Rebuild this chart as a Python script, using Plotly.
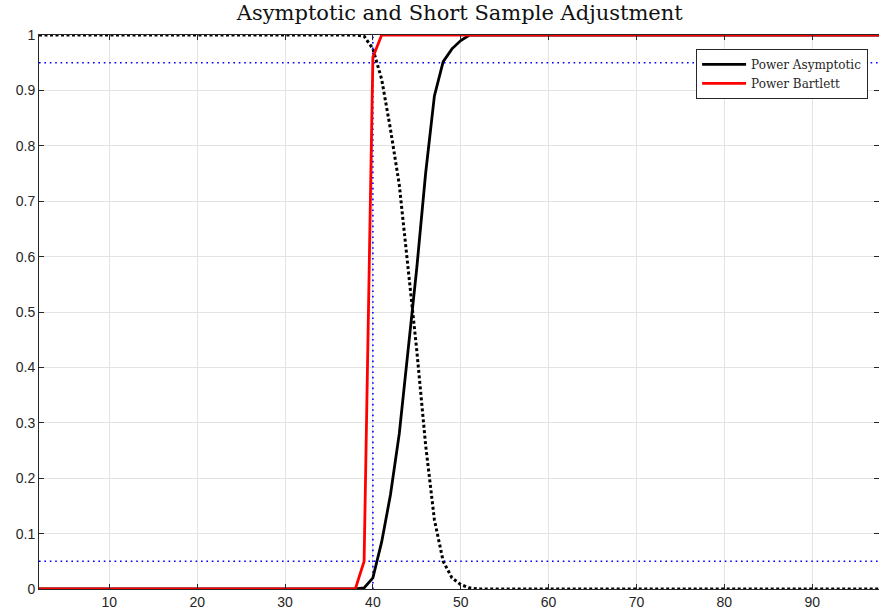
import plotly.graph_objects as go

# x grid (sample sizes)
x_vals = list(range(2, 99))

# Read values around the transition region (x = 38..52); flat 0/1 elsewhere
x_trans = [38, 39, 40, 41, 42, 43, 44, 45, 46, 47, 48, 49, 50, 51, 52]
power_asym_trans = [0.0, 0.002, 0.02, 0.085, 0.17, 0.28, 0.43, 0.58, 0.75, 0.89, 0.952, 0.975, 0.99, 1.0, 1.0]
size_asym_trans = [1.0, 0.998, 0.975, 0.92, 0.83, 0.73, 0.58, 0.43, 0.26, 0.125, 0.05, 0.02, 0.008, 0.002, 0.0]
power_bart_trans = [0.0, 0.05, 0.96, 1.0, 1.0, 1.0, 1.0, 1.0, 1.0, 1.0, 1.0, 1.0, 1.0, 1.0, 1.0]

n_before = 38 - 2
n_after = 98 - 52
power_asym = [0.0] * n_before + power_asym_trans + [1.0] * n_after
size_asym = [1.0] * n_before + size_asym_trans + [0.0] * n_after
power_bart = [0.0] * n_before + power_bart_trans + [1.0] * n_after

ref_levels = [0.95, 0.05]
ref_x = 40

x_ticks = [10, 20, 30, 40, 50, 60, 70, 80, 90]
y_ticks = [0, 0.1, 0.2, 0.3, 0.4, 0.5, 0.6, 0.7, 0.8, 0.9, 1]
y_tick_text = ["0", "0.1", "0.2", "0.3", "0.4", "0.5", "0.6", "0.7", "0.8", "0.9", "1"]

fig = go.Figure()

# Blue dotted reference lines
blue_line = dict(color="#0000ff", width=1.6, dash="1.6px,3.8px")
for lvl in ref_levels:
    fig.add_trace(go.Scatter(x=[x_vals[0], x_vals[-1]], y=[lvl, lvl], mode="lines",
                             line=blue_line, showlegend=False, hoverinfo="skip"))
fig.add_trace(go.Scatter(x=[ref_x, ref_x], y=[0, 1], mode="lines",
                         line=blue_line, showlegend=False, hoverinfo="skip"))

fig.add_trace(go.Scatter(x=x_vals, y=power_asym, mode="lines", name="Power Asymptotic",
                         line=dict(color="black", width=2.8)))
fig.add_trace(go.Scatter(x=x_vals, y=size_asym, mode="lines", name="Size Asymptotic",
                         line=dict(color="black", width=3, dash="3px,2.5px"), showlegend=False))
fig.add_trace(go.Scatter(x=x_vals, y=power_bart, mode="lines", name="Power Bartlett",
                         line=dict(color="#ff0000", width=2.8)))

fig.update_layout(
    width=879, height=613,
    margin=dict(l=39, r=0, t=35, b=24),
    plot_bgcolor="white", paper_bgcolor="white",
    title=dict(text="Asymptotic and Short Sample Adjustment",
               font=dict(family="DejaVu Serif", size=21, color="#111111"),
               x=0.523, xanchor="center", y=1 - 13 / 613, yanchor="middle", yref="container"),
    legend=dict(x=0.987, y=0.975, xanchor="right", yanchor="top",
                bgcolor="white", bordercolor="#262626", borderwidth=1,
                font=dict(family="DejaVu Serif", size=12, color="#262626"),
                tracegroupgap=0, itemwidth=44),
    showlegend=True,
)

fig.update_xaxes(range=[2, 97.6], tickvals=x_ticks, ticks="inside", ticklen=5,
                 tickcolor="#262626", showgrid=True, gridcolor="#e3e3e3", gridwidth=1,
                 showline=True, linecolor="#262626", linewidth=1, mirror="ticks",
                 zeroline=False, tickfont=dict(family="Liberation Sans", size=14, color="#262626"))
fig.update_yaxes(range=[0, 1], tickvals=y_ticks, ticktext=y_tick_text, ticks="inside", ticklen=5,
                 tickcolor="#262626", showgrid=True, gridcolor="#e3e3e3", gridwidth=1,
                 showline=True, linecolor="#262626", linewidth=1, mirror="ticks",
                 zeroline=False, tickfont=dict(family="Liberation Sans", size=14, color="#262626"))

fig.write_html("out.html")
